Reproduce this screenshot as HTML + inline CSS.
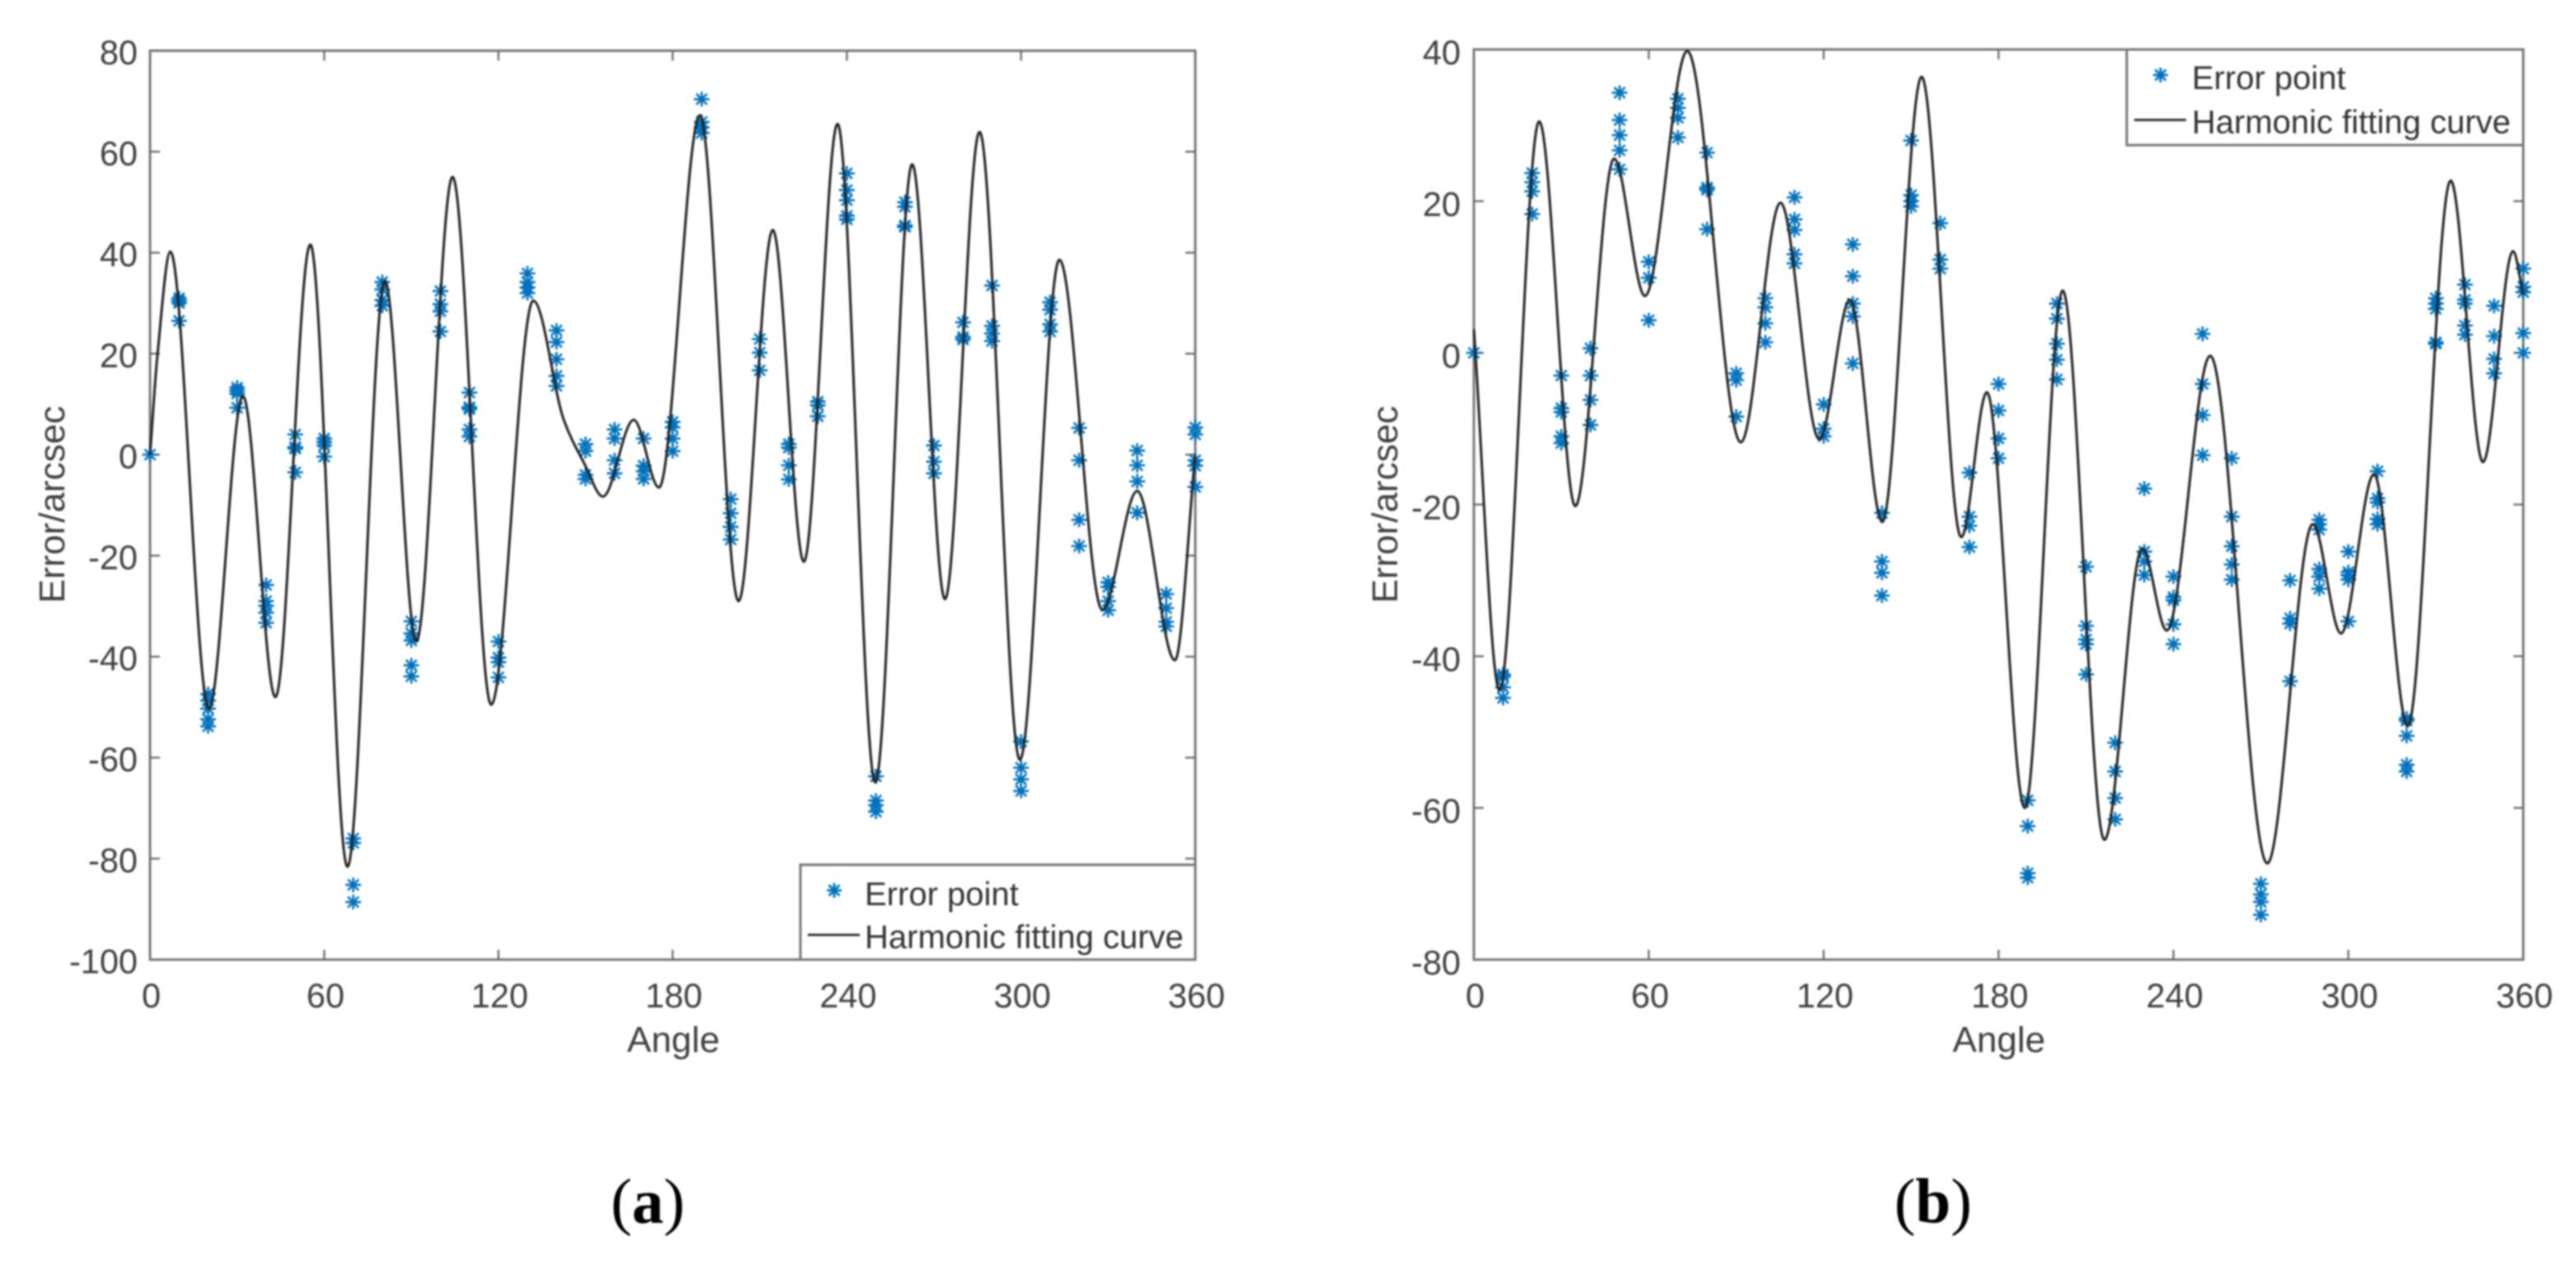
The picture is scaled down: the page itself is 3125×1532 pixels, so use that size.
<!DOCTYPE html>
<html lang="en">
<head>
<meta charset="utf-8">
<title>Error point and harmonic fitting curve charts</title>
<style>
html,body{margin:0;padding:0;background:#fff;}
#figure{display:block;width:3125px;height:1532px;filter:blur(1px);font-family:"Liberation Sans",sans-serif;}
.tick-label{fill:#404040;font-size:41.5px;}
.axis-title{fill:#404040;font-size:44px;}
.legend-text{fill:#333;font-size:40px;}
.panel-label{fill:#000;font-family:"Liberation Serif",serif;font-size:77px;}
</style>
</head>
<body>
<svg id="figure" xmlns="http://www.w3.org/2000/svg" width="3125" height="1532" viewBox="0 0 3125 1532">
  <rect x="0" y="0" width="3125" height="1532" fill="#fff"/>
  <g id="chart-a"></g>
  <g id="chart-b"></g>

  <text class="axis-title" x="817" y="1276" text-anchor="middle">Angle</text>
  <text class="axis-title" transform="translate(78 612) rotate(-90)" text-anchor="middle">Error/arcsec</text>
  <g>
    <rect x="971" y="1049" width="479" height="115" fill="#fff" stroke="#777" stroke-width="3"/>
    <g stroke="#0072BD" stroke-width="2.8" transform="translate(1012 1080)">
      <line x1="-9" y1="0" x2="9" y2="0"/><line x1="0" y1="-9" x2="0" y2="9"/><line x1="-6.5" y1="-6.5" x2="6.5" y2="6.5"/><line x1="-6.5" y1="6.5" x2="6.5" y2="-6.5"/>
    </g>
    <text class="legend-text" x="1049" y="1098">Error point</text>
    <line x1="980" y1="1134" x2="1043" y2="1134" stroke="#262626" stroke-width="2.8"/>
    <text class="legend-text" x="1049" y="1150">Harmonic fitting curve</text>
  </g>
  <text class="panel-label" x="741" y="1483">(<tspan font-weight="bold">a</tspan>)</text>

  <text class="axis-title" x="2425" y="1276" text-anchor="middle">Angle</text>
  <text class="axis-title" transform="translate(1695 612) rotate(-90)" text-anchor="middle">Error/arcsec</text>
  <g>
    <rect x="2580" y="60" width="481" height="116" fill="#fff" stroke="#777" stroke-width="3"/>
    <g stroke="#0072BD" stroke-width="2.8" transform="translate(2621 91)">
      <line x1="-9" y1="0" x2="9" y2="0"/><line x1="0" y1="-9" x2="0" y2="9"/><line x1="-6.5" y1="-6.5" x2="6.5" y2="6.5"/><line x1="-6.5" y1="6.5" x2="6.5" y2="-6.5"/>
    </g>
    <text class="legend-text" x="2659" y="108">Error point</text>
    <line x1="2589" y1="145.5" x2="2652" y2="145.5" stroke="#262626" stroke-width="2.8"/>
    <text class="legend-text" x="2659" y="161.5">Harmonic fitting curve</text>
  </g>
  <text class="panel-label" x="2298" y="1483">(<tspan font-weight="bold">b</tspan>)</text>
</svg>
<script>
const xTickLabels = [0, 60, 120, 180, 240, 300, 360];
const yTickLabelsA = [80, 60, 40, 20, 0, -20, -40, -60, -80, -100];
const yTickLabelsB = [40, 20, 0, -20, -40, -60, -80];

const pointAngles = [0,10,20,30,40,50,60,70,80,90,100,110,120,130,140,150,160,170,180,190,200,210,220,230,240,250,260,270,280,290,300,310,320,330,340,350,360];

const pointValuesA = [
  [0],
  [31,30.5,30,26.5],
  [-47.4,-48.7,-50.3,-52.4,-53.8],
  [13.3,12.7,12.1,9.3],
  [-25.8,-29,-29.9,-31.3,-33.3],
  [4,1.5,1.2,-3.5],
  [3.2,2.5,1.8,-0.4],
  [-76,-76.9,-85.2,-88.6],
  [34.2,32.7,30.6,29.5],
  [-33,-35.4,-36.8,-41.7,-43.9],
  [32.4,29.8,28.4,24.4],
  [12.3,9.4,9,5,3.6],
  [-37,-40.2,-41.1,-44.1],
  [35.9,34.2,33.1,32],
  [24.6,22.3,18.9,15.6,13.6],
  [2.1,0.7,-4,-4.8],
  [5,3.2,-1.1,-3.7],
  [3.2,-2.2,-3.3,-4.8],
  [6.5,5.4,3.2,0.7],
  [70.4,65.9,64.8,63.7],
  [-8.8,-11.6,-14.3,-16.8],
  [22.9,20.2,16.7],
  [2.1,1.4,-2.1,-4.9],
  [10.5,9.8,7.6],
  [55.7,52.4,50.4,47.3,46.6],
  [-63.7,-68.5,-69.4,-70.7],
  [50,49.1,45.4,45.1],
  [1.8,-1.4,-3.7],
  [26.2,23.3,22.8],
  [33.5,25.5,24,22.5],
  [-56.8,-62,-64.3,-66.6],
  [30.2,28.7,25.8,24.4],
  [5.3,-1.1,-12.9,-18.1],
  [-25.3,-26.2,-29,-30.8],
  [0.8,-2.1,-5.3,-11.5],
  [-27.6,-30.4,-33.1,-34],
  [5.4,4,-1.1,-2.2,-6.4]
];

const curveAnglesA = [0,2.6,7,20.3,32,43.2,55.2,68,80.9,91.7,104.2,117.5,132,142.5,149.7,156,166.6,175.3,189.4,202.7,214.5,225.2,236.8,249.8,262.5,273.8,285.7,299.6,313.2,328,340,353,360];
const curveValuesA = [0,20,40.2,-50.3,11.6,-48,41.6,-81.6,34.4,-37,55,-49.5,30.5,6.9,-1.9,-8.3,6.9,-6.5,67.2,-29,44.5,-21.2,65.5,-64.9,57.5,-28.6,63.9,-60.4,38.6,-30.7,-7.2,-40.7,0];

const pointValuesB = [
  [0],
  [-42.4,-42.7,-44.1,-45.5],
  [23.7,22.5,21.3,18.3],
  [-3,-7.3,-7.8,-11,-11.9],
  [0.6,-3,-6.2,-9.5],
  [34.3,30.7,28.7,26.7,24.2],
  [12,9.9,4.3],
  [33.5,32.3,31,28.4],
  [26.4,21.8,21.5,16.3],
  [-2.7,-3.6,-8.4],
  [7.2,6,3.9,1.4],
  [20.5,17.6,16.2,13,11.8],
  [-6.8,-10,-11],
  [14.3,10.1,6.5,4.8,-1.4],
  [-21.1,-27.5,-29,-32],
  [28,20.8,20,19.3],
  [17.1,12.3,11.1],
  [-15.8,-21.6,-22.8,-25.6],
  [-4.1,-7.6,-11.3,-13.9],
  [-59,-62.4,-68.6,-69.2],
  [6.5,4.5,1.2,-0.9,-3.5],
  [-28.2,-36,-37.8,-38.4,-42.4],
  [-51.4,-55.2,-58.7,-61.5],
  [-17.9,-26.2,-27.5,-29.3],
  [-29.5,-32.2,-32.6,-35.8,-38.4],
  [2.5,-4.1,-8.2,-13.5],
  [-13.9,-21.6,-25.5,-27.9,-29.9],
  [-70,-71.4,-72.4,-74.1],
  [-30,-35,-35.7,-43.3],
  [-22,-22.6,-23.3,-28.5,-29.5,-31.1],
  [-26.2,-28.9,-29.3,-29.9,-35.4],
  [-15.6,-19.2,-19.7,-21.9,-22.6],
  [-48.2,-48.5,-50.5,-54.3,-55.2],
  [7.2,6.5,5.8,1.4,1.2],
  [9,7,6.5,3.6,2.4],
  [6.2,2.2,-0.8,-2.7],
  [11.1,8.7,8,2.6,0]
];

const curveAnglesB = [0,8.8,22.4,34.8,48.1,58.7,73.2,91.6,105.2,118.5,129,140.1,153.6,167.2,176,189,202,216.3,229.3,237.7,252.6,272.2,287.8,297.5,308.8,320.4,335.1,346.2,356.5,360];
const curveValuesB = [3.1,-44.5,30.5,-20.2,25.6,7.5,39.8,-11.8,19.8,-11.4,7,-22.3,36.4,-24.3,-5.2,-60,8.2,-64.2,-25.8,-36.6,-0.4,-67.3,-22.6,-37,-16,-49.2,22.7,-14.4,13.4,7.7];

const SVG_NS = 'http://www.w3.org/2000/svg';

function make(tag, attrs, parent) {
  const el = document.createElementNS(SVG_NS, tag);
  for (const k in attrs) el.setAttribute(k, attrs[k]);
  parent.appendChild(el);
  return el;
}

function curvePath(angles, values, xs, ys) {
  const px = angles.map(xs);
  const py = values.map(ys);
  const n = px.length;
  const slopes = [];
  for (let i = 0; i < n - 1; i++) slopes.push((py[i + 1] - py[i]) / (px[i + 1] - px[i]));
  const tangents = [slopes[0]];
  for (let i = 1; i < n - 1; i++) {
    const a = slopes[i - 1];
    const b = slopes[i];
    tangents.push(a * b <= 0 ? 0 : 2 * a * b / (a + b));
  }
  tangents.push(slopes[n - 2]);
  let d = 'M' + px[0].toFixed(2) + ' ' + py[0].toFixed(2);
  for (let i = 0; i < n - 1; i++) {
    const h = (px[i + 1] - px[i]) / 3;
    d += 'C' + (px[i] + h).toFixed(2) + ' ' + (py[i] + tangents[i] * h).toFixed(2) + ' ' +
         (px[i + 1] - h).toFixed(2) + ' ' + (py[i + 1] - tangents[i + 1] * h).toFixed(2) + ' ' +
         px[i + 1].toFixed(2) + ' ' + py[i + 1].toFixed(2);
  }
  return d;
}

function drawChart(root, box, yMin, yMax, yTicks, labelRight, labelDrop, angles, pointValues, curveAngles, curveValues, suffix) {
  const xs = a => box.left + (a / 360) * (box.right - box.left);
  const ys = v => box.bottom - ((v - yMin) / (yMax - yMin)) * (box.bottom - box.top);

  const axes = make('rect', {x: box.left, y: box.top, width: box.right - box.left, height: box.bottom - box.top, fill: 'none', stroke: '#777', 'stroke-width': 3}, root);
  
  

  xTickLabels.forEach(function (t) {
    const x = xs(t);
    if (t > 0 && t < 360) {
      const tickBottom = make('line', {x1: x, y1: box.bottom, x2: x, y2: box.bottom - 12, stroke: '#666', 'stroke-width': 2.2}, root);
      
      
      const tickTop = make('line', {x1: x, y1: box.top, x2: x, y2: box.top + 12, stroke: '#666', 'stroke-width': 2.2}, root);
      
      
    }
    const label = make('text', {class: 'tick-label', x: x + 1.5, y: 1222, 'text-anchor': 'middle'}, root);
    
    
    label.textContent = t;
  });

  yTicks.forEach(function (t) {
    const y = ys(t);
    if (t > yMin && t < yMax) {
      const tickLeft = make('line', {x1: box.left, y1: y, x2: box.left + 12, y2: y, stroke: '#666', 'stroke-width': 2.2}, root);
      
      
      const tickRight = make('line', {x1: box.right, y1: y, x2: box.right - 12, y2: y, stroke: '#666', 'stroke-width': 2.2}, root);
      
      
    }
    const label = make('text', {class: 'tick-label', x: labelRight, y: y + labelDrop, 'text-anchor': 'end'}, root);
    
    
    label.textContent = t;
  });

  const points = make('g', {stroke: '#0072BD', 'stroke-width': 2.6}, root);
  
  
  angles.forEach(function (a, i) {
    pointValues[i].forEach(function (v) {
      const x = xs(a);
      const y = ys(v);
      const mark = make('path', {d: 'M' + (x - 9.5) + ' ' + y + 'H' + (x + 9.5) + 'M' + x + ' ' + (y - 9) + 'V' + (y + 9) +
        'M' + (x - 6.5) + ' ' + (y - 6.5) + 'L' + (x + 6.5) + ' ' + (y + 6.5) +
        'M' + (x - 6.5) + ' ' + (y + 6.5) + 'L' + (x + 6.5) + ' ' + (y - 6.5), fill: 'none'}, points);
      
      
    });
  });

  const curve = make('path', {d: curvePath(curveAngles, curveValues, xs, ys), fill: 'none', stroke: '#222', 'stroke-width': 3}, root);
  
  
}

drawChart(document.getElementById('chart-a'), {left: 182, right: 1450, top: 61.5, bottom: 1164}, -100, 80, yTickLabelsA, 167, 16.5, pointAngles, pointValuesA, curveAnglesA, curveValuesA, 'a');
drawChart(document.getElementById('chart-b'), {left: 1788, right: 3061, top: 60, bottom: 1164}, -80, 40, yTickLabelsB, 1772, 18, pointAngles, pointValuesB, curveAnglesB, curveValuesB, 'b');
</script>
</body>
</html>
